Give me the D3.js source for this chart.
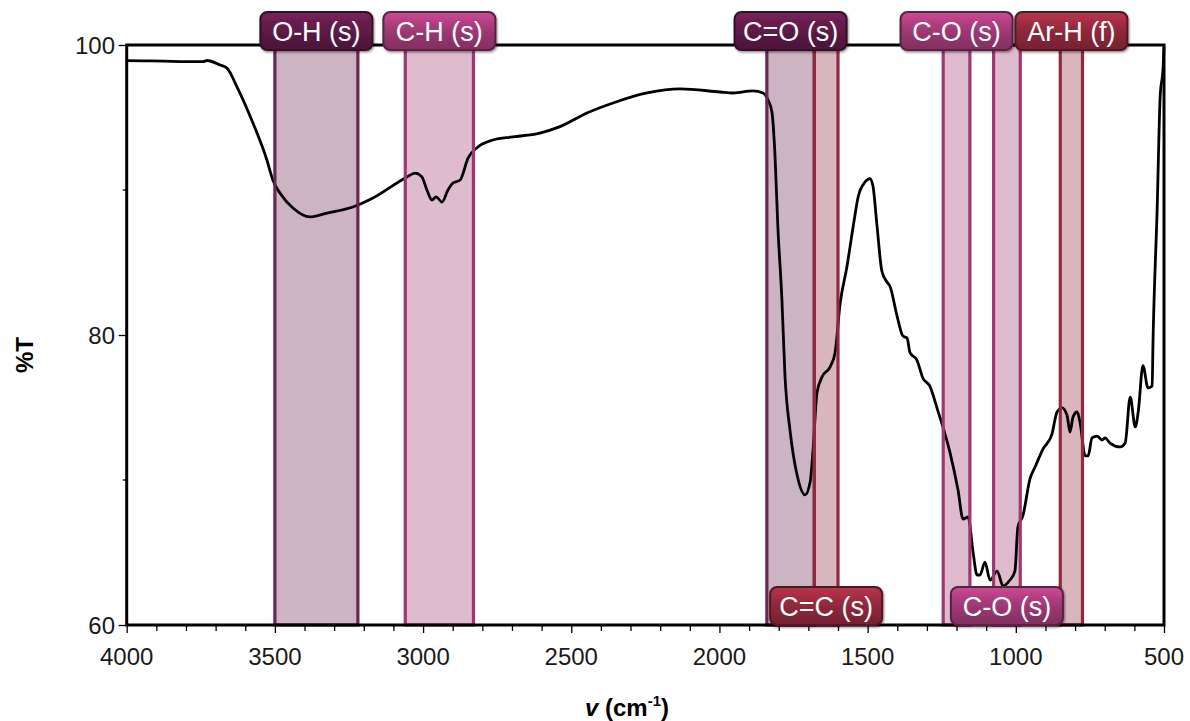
<!DOCTYPE html>
<html>
<head>
<meta charset="utf-8">
<script src="https://cdn.jsdelivr.net/npm/d3@7"></script>
<style>
  body { margin: 0; background: #fff; }
  svg { display: block; font-family: "Liberation Sans", Arial, sans-serif; }
  .tick-label { font-size: 24px; fill: #1a1a1a; }
  .axis-title { font-size: 24px; font-weight: bold; fill: #000; }
  .band-label { font-size: 27px; fill: #fff; }
</style>
</head>
<body>
<svg id="chart" width="1190" height="721"></svg>
<script>
// IR spectrum
const wavenumber = [4000, 3921, 3820, 3743, 3729, 3685, 3662, 3628, 3574, 3527, 3507, 3483, 3439, 3382, 3324, 3237,
    3169, 3054, 3027, 3004, 2987, 2970, 2956, 2936, 2916, 2899, 2875, 2848, 2815, 2764, 2697, 2606, 2538, 2447,
    2359, 2244, 2133, 1998, 1954, 1887, 1853, 1836, 1823, 1813, 1803, 1789, 1779, 1762, 1738, 1711, 1694, 1684,
    1671, 1654, 1627, 1610, 1593, 1570, 1549, 1532, 1509, 1492, 1482, 1468, 1452, 1435, 1425, 1401, 1381, 1367,
    1357, 1334, 1313, 1290, 1266, 1246, 1222, 1195, 1178, 1161, 1144, 1131, 1121, 1104, 1087, 1063, 1043, 1020,
    1003, 993, 976, 952, 935, 908, 878, 861, 844, 827, 817, 807, 793, 783, 766, 756, 743, 726, 709, 699, 682, 648,
    631, 614, 597, 587, 571, 554, 540, 537, 523, 513, 503, 500];
const transmittance = [98.92, 98.9, 98.86, 98.85, 98.93, 98.62, 98.41, 97.12, 94.62, 92.07, 90.69, 89.79, 88.76,
    88.14, 88.41, 88.83, 89.45, 90.9, 91.17, 90.9, 90.0, 89.31, 89.52, 89.17, 90.0, 90.48, 90.69, 92.21, 92.97,
    93.45, 93.66, 93.93, 94.37, 95.31, 96.0, 96.69, 96.97, 96.76, 96.69, 96.83, 96.69, 96.2, 95.38, 92.58, 87.52,
    82.34, 77.24, 73.45, 70.34, 68.97, 69.86, 72.14, 76.0, 77.1, 77.79, 78.76, 82.14, 84.69, 87.45, 89.52, 90.55,
    90.79, 90.28, 87.45, 84.41, 83.66, 83.38, 81.34, 79.93, 79.79, 78.79, 78.28, 77.0, 76.48, 74.97, 73.66, 71.89,
    69.31, 67.31, 67.45, 64.99, 63.45, 63.45, 64.34, 63.1, 63.72, 62.69, 63.1, 63.72, 66.76, 67.54, 70.1, 70.9,
    72.14, 73.17, 74.69, 74.97, 74.45, 73.31, 74.34, 74.69, 73.93, 71.66, 71.66, 72.9, 73.03, 72.76, 72.9, 72.55,
    72.28, 72.55, 75.72, 73.66, 74.69, 77.89, 76.34, 76.48, 79.59, 88.76, 96.41, 98.48, 99.86];

// absorption bands: [from, to] in cm-1, label, group, label row
const bandRanges = [[3500, 3220], [3060, 2830], [1840, 1680], [1680, 1600], [1245, 1155], [1075, 985], [850, 775]];
const bandLabels = ['O-H (s)', 'C-H (s)', 'C=O (s)', 'C=C (s)', 'C-O (s)', 'C-O (s)', 'Ar-H (f)'];
const bandGroups = ['dark', 'pink', 'dark', 'red', 'pink', 'pink', 'red'];
const bandRows = ['top', 'top', 'top', 'bottom', 'top', 'bottom', 'top'];

const xTicks = [4000, 3500, 3000, 2500, 2000, 1500, 1000, 500];
const yTicks = [100, 80, 60];
const yMinorTicks = [90, 70];

const plotLeft = 126.7, plotRight = 1164, plotTop = 45, plotBottom = 625;

const svg = d3.select('#chart');
const x = d3.scaleLinear().domain([4000, 500]).range([plotLeft, plotRight]);
const y = d3.scaleLinear().domain([60, 100]).range([plotBottom, plotTop]);

const stroke = d3.scaleOrdinal().domain(['dark', 'pink', 'red']).range(['#6c2450', '#a0386f', '#8f2a3e']);
const boxColor = d3.scaleOrdinal().domain(['dark', 'pink', 'red']).range(['#5a1a44', '#9a3870', '#8c283a']);

// glossy gradients for the label boxes
const defs = svg.append('defs');
['dark', 'pink', 'red'].forEach(g => {
    let c = d3.color(boxColor(g));
    let grad = defs.append('linearGradient').attr('id', 'gloss-' + g)
        .attr('x1', 0).attr('y1', 0).attr('x2', 0).attr('y2', 1);
    grad.append('stop').attr('offset', '0%').attr('stop-color', c.brighter(0.8));
    grad.append('stop').attr('offset', '40%').attr('stop-color', c.brighter(0.2));
    grad.append('stop').attr('offset', '55%').attr('stop-color', c);
    grad.append('stop').attr('offset', '100%').attr('stop-color', c.darker(0.5));
});
const shadow = defs.append('filter').attr('id', 'shadow').attr('x', '-10%').attr('y', '-20%')
    .attr('width', '130%').attr('height', '150%');
shadow.append('feDropShadow').attr('dx', 1).attr('dy', 1.5).attr('stdDeviation', 1.2)
    .attr('flood-color', '#000').attr('flood-opacity', 0.45);

const bands = bandRanges.map((r, i) => ({from: r[0], to: r[1], label: bandLabels[i], group: bandGroups[i], row: bandRows[i]}));

// band fills under the trace
svg.append('g').selectAll('rect.band-fill')
    .data(bands)
    .enter()
        .append('rect')
        .attr('class', 'band-fill')
        .attr('x', d => x(d.from))
        .attr('y', plotTop)
        .attr('width', d => x(d.to) - x(d.from))
        .attr('height', plotBottom - plotTop)
        .attr('fill', d => stroke(d.group))
        .attr('fill-opacity', 0.34);

// spectrum
const points = wavenumber.map((w, i) => ({w, t: transmittance[i]}));
const line = d3.line().x(d => x(d.w)).y(d => y(d.t)).curve(d3.curveMonotoneX);
svg.append('path')
    .datum(points)
    .attr('d', line)
    .attr('fill', 'none')
    .attr('stroke', '#000')
    .attr('stroke-width', 2.8)
    .attr('stroke-linejoin', 'round');

// band borders over the trace
svg.append('g').selectAll('rect.band-edge')
    .data(bands)
    .enter()
        .append('rect')
        .attr('class', 'band-edge')
        .attr('x', d => x(d.from))
        .attr('y', plotTop)
        .attr('width', d => x(d.to) - x(d.from))
        .attr('height', plotBottom - plotTop)
        .attr('fill', 'none')
        .attr('stroke', d => stroke(d.group))
        .attr('stroke-width', 3.2);

// frame
svg.append('rect')
    .attr('x', plotLeft).attr('y', plotTop)
    .attr('width', plotRight - plotLeft).attr('height', plotBottom - plotTop)
    .attr('fill', 'none').attr('stroke', '#000').attr('stroke-width', 3);

// x axis ticks
const xAxis = svg.append('g').attr('transform', `translate(0,${plotBottom})`)
    .call(d3.axisBottom(x).tickValues(d3.range(4000, 499, -100)).tickSize(7).tickFormat(''));
xAxis.select('.domain').remove();
xAxis.selectAll('.tick line').attr('stroke', '#000').attr('stroke-width', 1.3)
    .attr('y2', d => d % 500 === 0 ? 8 : 6);

svg.append('g').selectAll('text')
    .data(xTicks)
    .enter()
        .append('text')
        .attr('class', 'tick-label')
        .attr('x', d => x(d))
        .attr('y', 665)
        .attr('text-anchor', 'middle')
        .text(d => d);

// y axis ticks
const yAxis = svg.append('g').attr('transform', `translate(${plotLeft},0)`)
    .call(d3.axisLeft(y).tickValues(yTicks).tickSize(8).tickFormat(''));
yAxis.select('.domain').remove();
yAxis.selectAll('.tick line').attr('stroke', '#000').attr('stroke-width', 1.3);

svg.append('g').selectAll('line')
    .data(yMinorTicks)
    .enter()
        .append('line')
        .attr('x1', plotLeft - 4).attr('x2', plotLeft)
        .attr('y1', d => y(d)).attr('y2', d => y(d))
        .attr('stroke', '#000').attr('stroke-width', 1.3);

svg.append('g').selectAll('text')
    .data(yTicks)
    .enter()
        .append('text')
        .attr('class', 'tick-label')
        .attr('x', 115)
        .attr('y', d => y(d) + 8.5)
        .attr('text-anchor', 'end')
        .text(d => d);

// axis titles
svg.append('text')
    .attr('class', 'axis-title')
    .attr('transform', 'translate(33,355) rotate(-90)')
    .attr('text-anchor', 'middle')
    .text('%T');

const xt = svg.append('text')
    .attr('class', 'axis-title')
    .attr('x', 627)
    .attr('y', 716)
    .attr('text-anchor', 'middle');
xt.append('tspan').attr('font-style', 'italic').text('v');
xt.append('tspan').text(' (cm');
xt.append('tspan').attr('font-size', 15).attr('dy', -10).text('-1');
xt.append('tspan').attr('dy', 10).text(')');

// label boxes
const boxW = 112, boxH = 38;
const labels = svg.append('g').selectAll('g.band-tag')
    .data(bands)
    .enter()
        .append('g')
        .attr('class', 'band-tag')
        .attr('transform', d => {
            let cx = (x(d.from) + x(d.to)) / 2;
            let ty = d.row === 'top' ? 12 : 587;
            return `translate(${cx - boxW / 2},${ty})`;
        });

labels.append('rect')
    .attr('width', boxW)
    .attr('height', boxH)
    .attr('rx', 7)
    .attr('fill', d => `url(#gloss-${d.group})`)
    .attr('stroke', d => d3.color(boxColor(d.group)).darker(1.5))
    .attr('stroke-width', 2)
    .attr('filter', 'url(#shadow)');

labels.append('text')
    .attr('class', 'band-label')
    .attr('x', boxW / 2)
    .attr('y', 29)
    .attr('text-anchor', 'middle')
    .text(d => d.label);
</script>
</body>
</html>
